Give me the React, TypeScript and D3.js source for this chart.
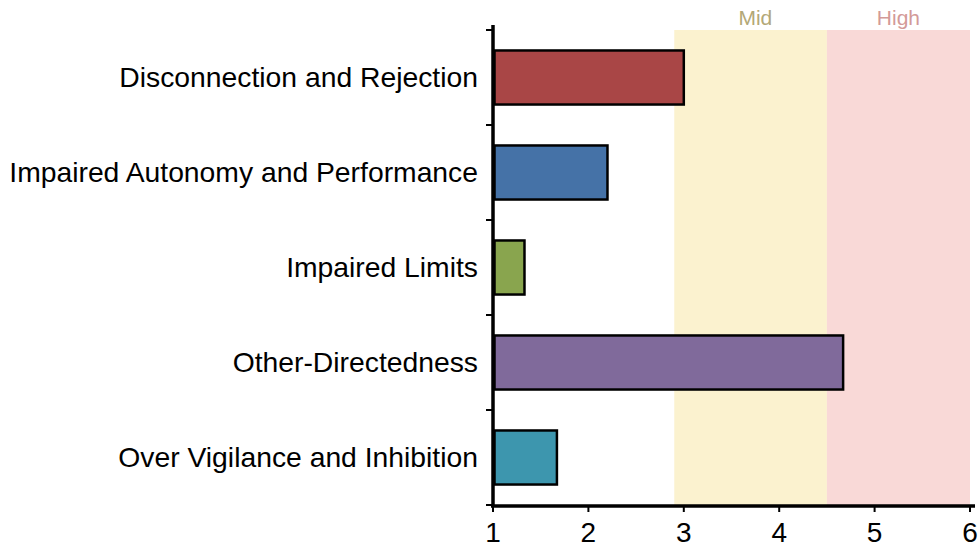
import React from "react";
import * as d3 from "d3";

const categories = [
  "Disconnection and Rejection",
  "Impaired Autonomy and Performance",
  "Impaired Limits",
  "Other-Directedness",
  "Over Vigilance and Inhibition",
];
const values = [3.0, 2.2, 1.33, 4.67, 1.67];
const barColors = ["#a94646", "#4572a7", "#89a54e", "#806a9b", "#3d96ae"];
const xTicks = [1, 2, 3, 4, 5, 6];
const bandNames = ["Mid", "High"];
const bandFrom = [2.9, 4.5];
const bandTo = [4.5, 6];
const bandLabelAt = [3.75, 5.25];
const bandFill = ["#fbf2cf", "#f9d9d7"];
const bandText = ["#b3a877", "#d39a98"];

const W = 979;
const H = 546;

export default function App() {
  const x = d3.scaleLinear().domain([1, 6]).range([493, 970]);
  const y = d3
    .scaleBand<string>()
    .domain(categories)
    .range([30, 505])
    .paddingInner(0.41)
    .paddingOuter(0.205);
  const step = y.step();
  const top = 30;
  const bottom = 505;
  const font = "Liberation Sans, Arial, sans-serif";
  const yTickPos = d3.range(categories.length + 1).map((i) => top + i * step);

  return (
    <svg
      width={W}
      height={H}
      style={{ position: "absolute", left: 0, top: 0, display: "block" }}
    >
      <rect x={0} y={0} width={W} height={H} fill="#ffffff" />
      {bandNames.map((n, i) => (
        <g key={n}>
          <rect
            x={x(bandFrom[i])}
            y={top}
            width={x(bandTo[i]) - x(bandFrom[i])}
            height={bottom - top}
            fill={bandFill[i]}
          />
          <text
            x={x(bandLabelAt[i])}
            y={25}
            textAnchor="middle"
            fontFamily={font}
            fontSize={21}
            fill={bandText[i]}
          >
            {n}
          </text>
        </g>
      ))}
      {categories.map((c, i) => (
        <rect
          key={c}
          x={x(1) + 1.5}
          y={(y(c) as number) + 1}
          width={x(values[i]) - x(1) - 1.5}
          height={y.bandwidth() - 2}
          fill={barColors[i]}
          stroke="#000"
          strokeWidth={2.5}
        />
      ))}
      {categories.map((c) => (
        <text
          key={c}
          x={478}
          y={(y(c) as number) + y.bandwidth() / 2}
          dy="0.35em"
          textAnchor="end"
          fontFamily={font}
          fontSize={28.3}
          fill="#000"
        >
          {c}
        </text>
      ))}
      {/* y axis */}
      <line x1={x(1)} x2={x(1)} y1={25} y2={bottom + 2} stroke="#000" strokeWidth={3.5} />
      {yTickPos.map((t, i) => (
        <line key={i} x1={x(1) - 7} x2={x(1)} y1={t} y2={t} stroke="#000" strokeWidth={2} />
      ))}
      {/* x axis */}
      <line x1={x(1) - 2} x2={975} y1={bottom + 1} y2={bottom + 1} stroke="#000" strokeWidth={3.5} />
      {xTicks.map((t) => (
        <g key={t}>
          <line x1={x(t)} x2={x(t)} y1={bottom} y2={bottom + 7} stroke="#000" strokeWidth={2} />
          <text
            x={x(t)}
            y={542}
            textAnchor="middle"
            fontFamily={font}
            fontSize={28}
            fill="#000"
          >
            {t}
          </text>
        </g>
      ))}
    </svg>
  );
}
